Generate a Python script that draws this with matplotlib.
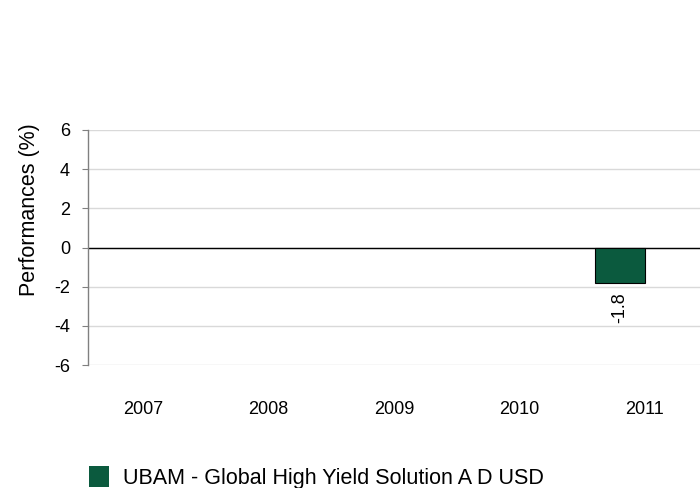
import numpy as np
import matplotlib
matplotlib.use('Agg')
import matplotlib.pyplot as plt
from matplotlib.patches import Patch

plt.rcParams['font.family'] = ['Liberation Sans', 'DejaVu Sans']

years = ['2007', '2008', '2009', '2010', '2011']
fund_name = 'UBAM - Global High Yield Solution A D USD'
fund_perf = [np.nan, np.nan, np.nan, np.nan, -1.8]
yticks = [-6, -4, -2, 0, 2, 4, 6]

green = '#0b5a3e'

fig = plt.figure(figsize=(7, 4.88), dpi=100)
ax = fig.add_axes([88 / 700, 1 - 365 / 488, 1 - 88 / 700, (365 - 130) / 488])

x = np.arange(len(years))
width = 0.4
bars = ax.bar(x - width / 2, fund_perf, width, color=green, edgecolor='black',
              linewidth=0.8, zorder=3)

for xi, v in zip(x, fund_perf):
    if not np.isnan(v):
        ax.annotate(f'{v:.1f}', (xi - width / 2, v), xytext=(0, -7),
                    textcoords='offset points', rotation=90,
                    ha='center', va='top', fontsize=13)

ax.set_xlim(-0.44, len(years) - 1 + 0.44)
ax.set_ylim(-6, 6)
ax.set_yticks(yticks)
ax.set_yticklabels([str(t) for t in yticks], fontsize=13)
ax.set_xticks(x)
ax.set_xticklabels(years, fontsize=13)
ax.tick_params(axis='x', length=0, pad=26)
ax.tick_params(axis='y', length=4, direction='out', color='#808080', pad=9)

ax.grid(axis='y', color='#d9d9d9', linewidth=1, zorder=0)
ax.axhline(0, color='black', linewidth=1, zorder=2)

for s in ['top', 'right', 'bottom']:
    ax.spines[s].set_visible(False)
ax.spines['left'].set_color('#808080')
ax.spines['left'].set_linewidth(1)

ax.set_ylabel('Performances (%)', fontsize=15.5)
ax.yaxis.set_label_coords(-0.078, 0.66)

fig.legend(handles=[Patch(facecolor=green, edgecolor='none', label=fund_name)],
           loc='lower left', bbox_to_anchor=(70 / 700, -0.041), frameon=False,
           fontsize=15.5, handlelength=0.93, handleheight=1.1, handletextpad=0.65)

plt.savefig('out.png', dpi=100)
